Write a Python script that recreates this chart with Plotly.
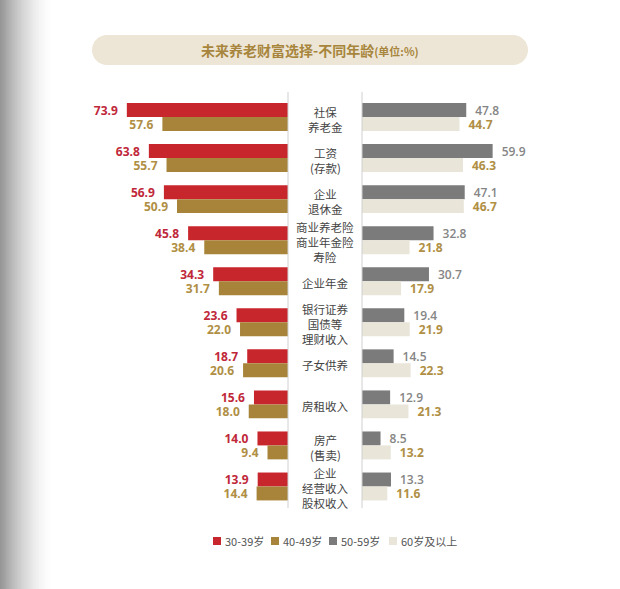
import plotly.graph_objects as go

W, H = 620, 589

categories = ["社保养老金", "工资(存款)", "企业退休金", "商业养老险商业年金险寿险", "企业年金",
              "银行证券国债等理财收入", "子女供养", "房租收入", "房产(售卖)", "企业经营收入股权收入"]
cat_labels = ["社保<br>养老金", "工资<br>(存款)", "企业<br>退休金", "商业养老险<br>商业年金险<br>寿险", "企业年金",
              "银行证券<br>国债等<br>理财收入", "子女供养", "房租收入", "房产<br>(售卖)", "企业<br>经营收入<br>股权收入"]
age_30_39 = [73.9, 63.8, 56.9, 45.8, 34.3, 23.6, 18.7, 15.6, 14.0, 13.9]
age_40_49 = [57.6, 55.7, 50.9, 38.4, 31.7, 22.0, 20.6, 18.0, 9.4, 14.4]
age_50_59 = [47.8, 59.9, 47.1, 32.8, 30.7, 19.4, 14.5, 12.9, 8.5, 13.3]
age_60_up = [44.7, 46.3, 46.7, 21.8, 17.9, 21.9, 22.3, 21.3, 13.2, 11.6]
series_names = ["30-39岁", "40-49岁", "50-59岁", "60岁及以上"]

RED, GOLD, GRAY, LIGHT = "#c8262d", "#a8843a", "#7b7b7b", "#e9e5d9"
RED_T, GOLD_T, GRAY_T = "#c0283a", "#b08f45", "#858585"

NUM_FONT = "Open Sans, Noto Sans CJK SC, sans-serif"
CJK_FONT = "Noto Sans CJK SC, sans-serif"

def px_x(p):
    return p / W

def px_y(p):
    return 1 - p / H

BW = 0.34
fig = go.Figure()

def add_bar(vals, name, color, tcolor, axis, offset, left, weight="bold"):
    tmpl = "%{x:.1f}\u2002" if left else "\u2002%{x:.1f}"
    fig.add_trace(go.Bar(
        y=categories, x=vals, name=name, orientation="h",
        marker=dict(color=color, line=dict(width=0)),
        width=BW, offset=offset,
        xaxis=axis, yaxis="y",
        text=vals, texttemplate=tmpl, textposition="outside",
        textfont=dict(color=tcolor, size=12, family=NUM_FONT, weight=weight),
        constraintext="none", cliponaxis=False, showlegend=False,
        hoverinfo="skip",
    ))

add_bar(age_30_39, series_names[0], RED, RED_T, "x", -BW, True)
add_bar(age_40_49, series_names[1], GOLD, GOLD_T, "x", 0, True)
add_bar(age_50_59, series_names[2], GRAY, GRAY_T, "x2", -BW, False, weight=600)
add_bar(age_60_up, series_names[3], LIGHT, GOLD_T, "x2", 0, False)

RANGE = 86.2
y0, y1 = 96.5, 507.0
fig.update_layout(
    width=W, height=H, margin=dict(l=0, r=0, t=0, b=0),
    paper_bgcolor="white", plot_bgcolor="rgba(0,0,0,0)",
    xaxis=dict(domain=[px_x(100), px_x(288)], range=[RANGE, 0], visible=False, anchor="y"),
    xaxis2=dict(domain=[px_x(362), px_x(550)], range=[0, RANGE], visible=False, anchor="y"),
    yaxis=dict(domain=[px_y(y1), px_y(y0)], type="category", categoryorder="array",
               categoryarray=categories, range=[9.5, -0.5], visible=False, anchor="x"),
    showlegend=False,
)

shapes = []
# left-edge gray gradient
N = 40
for i in range(N):
    xa, xb = i * 60 / N, (i + 1) * 60 / N
    t = max(0.0, 1 - (xa + xb) / 2 / 54)
    L = int(round(255 - 108 * t ** 1.7))
    shapes.append(dict(type="rect", xref="paper", yref="paper", x0=px_x(xa), x1=px_x(xb) + 0.001,
                       y0=0, y1=1, fillcolor=f"rgb({L},{L},{L})", line=dict(width=0), layer="below"))

# title pill
def pill(xl, xr, yt, yb, r):
    k = 0.5523
    X = px_x
    Y = px_y
    p = f"M {X(xl + r)},{Y(yt)} L {X(xr - r)},{Y(yt)} "
    p += f"C {X(xr - r + k * r)},{Y(yt)} {X(xr)},{Y(yt + r - k * r)} {X(xr)},{Y(yt + r)} "
    p += f"L {X(xr)},{Y(yb - r)} "
    p += f"C {X(xr)},{Y(yb - r + k * r)} {X(xr - r + k * r)},{Y(yb)} {X(xr - r)},{Y(yb)} "
    p += f"L {X(xl + r)},{Y(yb)} "
    p += f"C {X(xl + r - k * r)},{Y(yb)} {X(xl)},{Y(yb - r + k * r)} {X(xl)},{Y(yb - r)} "
    p += f"L {X(xl)},{Y(yt + r)} "
    p += f"C {X(xl)},{Y(yt + r - k * r)} {X(xl + r - k * r)},{Y(yt)} {X(xl + r)},{Y(yt)} Z"
    return p

shapes.append(dict(type="path", xref="paper", yref="paper", path=pill(92, 528, 35, 65, 15),
                   fillcolor="#ede6d6", line=dict(width=0), layer="below"))

# divider lines
for xv in (288, 362):
    shapes.append(dict(type="line", xref="paper", yref="paper", x0=px_x(xv), x1=px_x(xv),
                       y0=px_y(92), y1=px_y(508), line=dict(color="#d0d0d0", width=1), layer="above"))

annotations = []
annotations.append(dict(
    xref="paper", yref="paper", x=px_x(310), y=px_y(50), showarrow=False,
    text="<b>未来养老财富选择-不同年龄</b><span style='font-size:11px'><b>(单位:%)</b></span>",
    font=dict(family=CJK_FONT, size=14, color="#a8853c"), xanchor="center", yanchor="middle"))

for i, lab in enumerate(cat_labels):
    annotations.append(dict(
        xref="paper", yref="y", x=px_x(325), y=i, yshift=-2, showarrow=False, text=lab,
        font=dict(family=CJK_FONT, size=11.5, color="#444444"), align="center",
        xanchor="center", yanchor="middle"))

# legend
leg_x = [213, 271, 329, 389]
leg_colors = [RED, GOLD, GRAY, LIGHT]
for xv, col, nm in zip(leg_x, leg_colors, series_names):
    shapes.append(dict(type="rect", xref="paper", yref="paper", x0=px_x(xv), x1=px_x(xv + 8),
                       y0=px_y(545), y1=px_y(537), fillcolor=col, line=dict(width=0)))
    annotations.append(dict(xref="paper", yref="paper", x=px_x(xv + 10), y=px_y(541), showarrow=False,
                            text=nm, font=dict(family=CJK_FONT, size=11, color="#555555"),
                            xanchor="left", yanchor="middle"))

fig.update_layout(shapes=shapes, annotations=annotations)
fig.write_html("out.html", config={"displayModeBar": False},
               post_script="document.body.style.margin='0';document.body.style.overflow='hidden';")
